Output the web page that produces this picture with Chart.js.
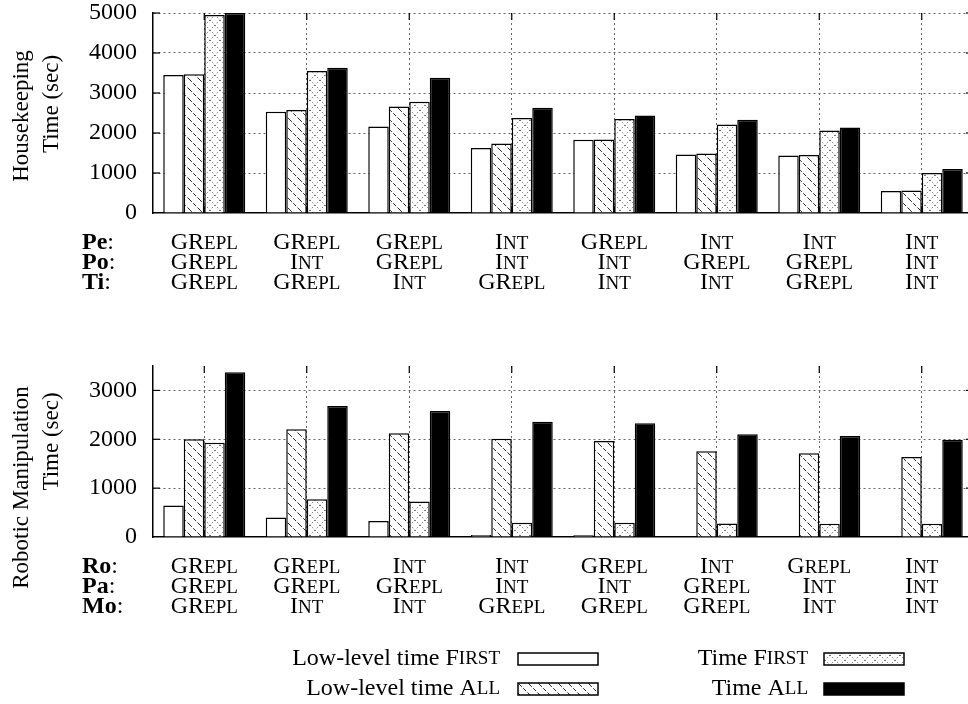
<!DOCTYPE html>
<html lang="en">
<head>
<meta charset="UTF-8">
<title>Housekeeping and Robotic Manipulation times</title>
<script src="https://cdn.jsdelivr.net/npm/chart.js@4.4.0/dist/chart.umd.min.js"></script>
<style>
  html, body { margin: 0; padding: 0; background: #fff; overflow: hidden; }
  #wrap { width: 980px; }
  canvas { display: block; }
</style>
</head>
<body>
<div id="wrap">
  <canvas id="houseChart" width="980" height="325"></canvas>
  <canvas id="roboChart" width="980" height="379"></canvas>
</div>
<script>
// series names (last word is set in small caps)
const seriesNames = ['Low-level time First', 'Low-level time All', 'Time First', 'Time All'];

// housekeeping (top)
const houseKeys = ['Pe', 'Po', 'Ti'];
const houseLabels = [
    ['GRepl', 'GRepl', 'GRepl'],
    ['GRepl', 'Int', 'GRepl'],
    ['GRepl', 'GRepl', 'Int'],
    ['Int', 'Int', 'GRepl'],
    ['GRepl', 'Int', 'Int'],
    ['Int', 'GRepl', 'Int'],
    ['Int', 'GRepl', 'GRepl'],
    ['Int', 'Int', 'Int']
];
const houseLowFirst = [3450, 2530, 2160, 1625, 1830, 1460, 1440, 550];
const houseLowAll   = [3470, 2575, 2660, 1740, 1840, 1490, 1450, 565];
const houseFirst    = [4950, 3550, 2780, 2375, 2350, 2215, 2065, 1000];
const houseAll      = [5000, 3630, 3380, 2630, 2440, 2330, 2140, 1100];
const houseTicks = [0, 1000, 2000, 3000, 4000, 5000];
const houseMax = 5000;

// robotic manipulation (bottom)
const roboKeys = ['Ro', 'Pa', 'Mo'];
const roboLabels = [
    ['GRepl', 'GRepl', 'GRepl'],
    ['GRepl', 'GRepl', 'Int'],
    ['Int', 'GRepl', 'Int'],
    ['Int', 'Int', 'GRepl'],
    ['GRepl', 'Int', 'GRepl'],
    ['Int', 'GRepl', 'GRepl'],
    ['Grepl', 'Int', 'Int'],
    ['Int', 'Int', 'Int']
];
const roboLowFirst = [645, 400, 326, 40, 35, 15, 12, 8];
const roboLowAll   = [2000, 2204, 2122, 2012, 1965, 1755, 1714, 1639];
const roboFirst    = [1930, 775, 727, 292, 292, 278, 271, 271];
const roboAll      = [3373, 2680, 2578, 2360, 2326, 2102, 2067, 1992];
const roboTicks = [0, 1000, 2000, 3000];
const roboMax = 3500;

const FONT = "'Liberation Serif', 'DejaVu Serif', serif";
const SIZE = 24;

// fill patterns
function makePattern(kind) {
    const c = document.createElement('canvas');
    const n = 10;
    c.width = n; c.height = n;
    const g = c.getContext('2d');
    g.fillStyle = '#fff';
    g.fillRect(0, 0, n, n);
    g.strokeStyle = '#222';
    g.lineWidth = 1;
    if (kind === 'hatch') {
        g.setLineDash([4, 2]);
        g.beginPath();
        g.moveTo(-1, -1); g.lineTo(n + 1, n + 1);
        g.stroke();
    } else {
        g.strokeStyle = '#333';
        g.setLineDash([1, 2.5]);
        g.beginPath();
        g.moveTo(0, 0); g.lineTo(n, n);
        g.moveTo(n, 0); g.lineTo(0, n);
        g.stroke();
    }
    return g.createPattern(c, 'repeat');
}
const fills = ['#ffffff', makePattern('hatch'), makePattern('cross'), '#000000'];

// small caps: lowercase letters are drawn as smaller capitals
function capsRuns(str) {
    const runs = [];
    for (const ch of str) {
        const small = ch !== ch.toUpperCase();
        const last = runs[runs.length - 1];
        const t = small ? ch.toUpperCase() : ch;
        if (last && last.small === small) last.text += t;
        else runs.push({ text: t, small: small });
    }
    return runs;
}
function drawCaps(ctx, str, x, y, align, size) {
    const runs = capsRuns(str);
    let w = 0;
    runs.forEach(r => {
        r.font = (r.small ? Math.round(size * 0.8) : size) + 'px ' + FONT;
        ctx.font = r.font;
        r.w = ctx.measureText(r.text).width;
        w += r.w;
    });
    let cx = align === 'center' ? x - w / 2 : (align === 'right' ? x - w : x);
    ctx.textAlign = 'left';
    runs.forEach(r => {
        ctx.font = r.font;
        ctx.fillText(r.text, cx, y);
        cx += r.w;
    });
    return w;
}

function line(ctx, x1, y1, x2, y2) {
    ctx.beginPath();
    ctx.moveTo(x1, y1);
    ctx.lineTo(x2, y2);
    ctx.stroke();
}

const decor = {
    id: 'decor',
    beforeDatasetsDraw(chart) {
        // gnuplot style inward ticks on all four sides
        const { ctx, chartArea: a, scales: { x, y } } = chart;
        ctx.save();
        ctx.strokeStyle = '#000';
        ctx.lineWidth = 1.2;
        y.ticks.forEach((t, i) => {
            if (t.value === 0) return;
            const py = y.getPixelForTick(i);
            line(ctx, a.left, py, a.left + 7, py);
            line(ctx, a.right - 7, py, a.right, py);
        });
        x.ticks.forEach((t, i) => {
            const px = x.getPixelForTick(i);
            line(ctx, px, a.top, px, a.top + 7);
            line(ctx, px, a.bottom - 7, px, a.bottom);
        });
        ctx.restore();
    },
    afterDraw(chart, args, opts) {
        const { ctx, chartArea: a, scales: { x } } = chart;
        ctx.save();
        ctx.fillStyle = '#000';
        ctx.textBaseline = 'alphabetic';

        // row names (Pe:, Po:, ...)
        opts.keys.forEach((k, r) => {
            const yb = a.bottom + 36 + r * 20;
            ctx.textAlign = 'left';
            ctx.font = 'bold ' + SIZE + 'px ' + FONT;
            ctx.fillText(k, 82, yb);
            const w = ctx.measureText(k).width;
            ctx.font = SIZE + 'px ' + FONT;
            ctx.fillText(':', 82 + w, yb);
        });

        // three-line category labels
        chart.data.labels.forEach((rows, i) => {
            const px = x.getPixelForValue(i);
            rows.forEach((s, r) => drawCaps(ctx, s, px, a.bottom + 36 + r * 20, 'center', SIZE));
        });

        // y axis title, two rotated lines
        const midY = (a.top + a.bottom) / 2;
        ctx.textAlign = 'center';
        ctx.textBaseline = 'middle';
        ctx.font = '23px ' + FONT;
        opts.title.forEach(t => {
            ctx.save();
            ctx.translate(t.x, midY + t.dy);
            ctx.rotate(-Math.PI / 2);
            ctx.fillText(t.text, 0, 0);
            ctx.restore();
        });

        // legend
        if (opts.legend) {
            const cols = [{ textRight: 500, box: 518 }, { textRight: 808, box: 824 }];
            const rowsY = [334, 364];
            chart.data.datasets.forEach((ds, i) => {
                const col = cols[Math.floor(i / 2)];
                const cy = rowsY[i % 2];
                const cut = ds.label.lastIndexOf(' ') + 1;
                const plain = ds.label.slice(0, cut);
                const caps = ds.label.slice(cut);
                ctx.textBaseline = 'middle';
                const cw = drawCaps(ctx, caps, col.textRight, cy, 'right', SIZE);
                ctx.font = SIZE + 'px ' + FONT;
                ctx.textAlign = 'right';
                ctx.fillText(plain, col.textRight - cw, cy);
                ctx.fillStyle = ds.backgroundColor;
                ctx.fillRect(col.box, cy - 6, 80, 12);
                ctx.strokeStyle = '#000';
                ctx.lineWidth = 1.5;
                ctx.strokeRect(col.box, cy - 6, 80, 12);
                ctx.fillStyle = '#000';
            });
        }
        ctx.restore();
    }
};

function buildChart(id, labels, series, maxY, tickValues, keys, title, plotBottom, padTop, legend) {
    const canvas = document.getElementById(id);
    return new Chart(canvas, {
        type: 'bar',
        data: {
            labels: labels,
            datasets: series.map((data, i) => ({
                label: seriesNames[i],
                data: data,
                backgroundColor: fills[i],
                borderColor: '#000',
                borderWidth: 1.5,
                categoryPercentage: 0.8,
                barPercentage: 1.0
            }))
        },
        options: {
            responsive: false,
            animation: false,
            devicePixelRatio: 1,
            layout: { padding: { top: padTop, right: 7, left: 0, bottom: 0 } },
            plugins: {
                legend: { display: false },
                tooltip: { enabled: false },
                decor: { keys: keys, title: title, legend: legend }
            },
            scales: {
                x: {
                    ticks: { display: false },
                    grid: {
                        offset: false,
                        drawTicks: false,
                        color: '#666',
                        lineWidth: 1
                    },
                    border: { display: true, color: '#000', width: 1.5, dash: [2, 3] },
                    afterFit: s => { s.height = canvas.height - plotBottom; }
                },
                y: {
                    min: 0,
                    max: maxY,
                    ticks: {
                        color: '#000',
                        padding: 0,
                        font: { family: FONT, size: SIZE, lineHeight: 1 },
                        callback: v => String(v)
                    },
                    afterBuildTicks: s => { s.ticks = tickValues.map(v => ({ value: v })); },
                    grid: {
                        drawTicks: true,
                        tickLength: 16,
                        tickColor: 'rgba(0,0,0,0)',
                        color: c => (c.tick && c.tick.value === 0) ? 'rgba(0,0,0,0)' : '#666',
                        lineWidth: 1
                    },
                    border: { display: true, color: '#000', width: 1.5, dash: [2, 3] },
                    afterFit: s => { s.width = 153; }
                }
            }
        },
        plugins: [decor]
    });
}

buildChart('houseChart', houseLabels,
    [houseLowFirst, houseLowAll, houseFirst, houseAll], houseMax, houseTicks, houseKeys,
    [{ text: 'Housekeeping', x: 22, dy: 3 }, { text: 'Time (sec)', x: 52, dy: -9 }],
    213, 13, false);

buildChart('roboChart', roboLabels,
    [roboLowFirst, roboLowAll, roboFirst, roboAll], roboMax, roboTicks, roboKeys,
    [{ text: 'Robotic Manipulation', x: 22, dy: 36 }, { text: 'Time (sec)', x: 52, dy: -10 }],
    212, 41, true);
</script>
</body>
</html>
